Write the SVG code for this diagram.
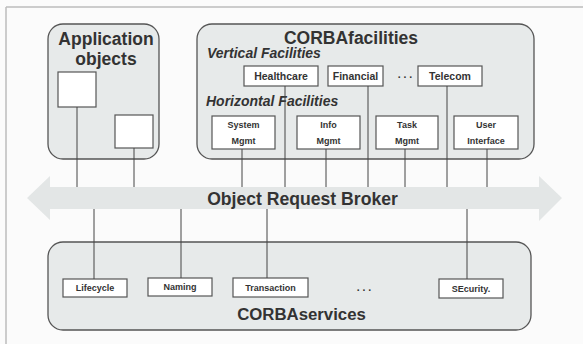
<svg xmlns="http://www.w3.org/2000/svg" width="583" height="344" viewBox="0 0 583 344">
<defs>
<style>
.frame{stroke:#bdbdbd;stroke-width:1.5;fill:none}
.group{fill:#e7eaea;stroke:#555;stroke-width:1.3}
.box{fill:#fff;stroke:#555;stroke-width:1.2}
.conn{stroke:#444;stroke-width:1;fill:none}
.t{font-family:"Liberation Sans",Arial,sans-serif;font-weight:bold;fill:#333;text-anchor:middle}
.title{font-size:17.5px}
.sub{font-size:14px;font-style:italic;text-anchor:start}
.vf{font-size:10.5px}
.sm{font-size:9px}
.orb{fill:#e3e6e6}
</style>
</defs>
<rect width="583" height="344" fill="#fbfbfb"/>
<path class="frame" d="M6 7 H583 M6 7 V344"/>

<g id="application-objects">
<rect class="group" x="48" y="24" width="111" height="135" rx="15"/>
<text class="t title" x="106" y="45">Application</text>
<text class="t title" x="106" y="65">objects</text>
<rect class="box" x="58" y="72" width="38" height="35"/>
<rect class="box" x="115" y="115" width="38" height="33"/>
</g>

<g id="corbafacilities">
<rect class="group" x="197" y="24" width="337" height="135" rx="15"/>
<text class="t title" x="351" y="44">CORBAfacilities</text>
<text class="t sub" x="207" y="58">Vertical Facilities</text>
<text class="t sub" x="206" y="106">Horizontal Facilities</text>
<text class="t vf" x="405" y="78">. . .</text>
</g>

<g id="healthcare"><rect class="box" x="244" y="66" width="74" height="20"/><text class="t vf" x="281" y="80">Healthcare</text></g>
<g id="financial"><rect class="box" x="328" y="66" width="55" height="20"/><text class="t vf" x="355.5" y="80">Financial</text></g>
<g id="telecom"><rect class="box" x="418" y="66" width="64" height="20"/><text class="t vf" x="450" y="80">Telecom</text></g>

<g id="system-mgmt"><rect class="box" x="212" y="116" width="63" height="33"/><text class="t sm" x="243.5" y="128">System</text><text class="t sm" x="243.5" y="144">Mgmt</text></g>
<g id="info-mgmt"><rect class="box" x="297" y="116" width="63" height="33"/><text class="t sm" x="328.5" y="128">Info</text><text class="t sm" x="328.5" y="144">Mgmt</text></g>
<g id="task-mgmt"><rect class="box" x="376" y="116" width="62" height="33"/><text class="t sm" x="407" y="128">Task</text><text class="t sm" x="407" y="144">Mgmt</text></g>
<g id="user-interface"><rect class="box" x="454" y="116" width="64" height="33"/><text class="t sm" x="486" y="128">User</text><text class="t sm" x="486" y="144">Interface</text></g>

<g id="orb">
<polygon class="orb" points="27,198 50,176 50,187 539,187 539,176 562,198 539,221 539,209 50,209 50,220"/>
<text class="t" style="font-size:17.6px" x="302.5" y="205">Object Request Broker</text>
</g>

<g id="corbaservices">
<rect class="group" x="48" y="242" width="483" height="88" rx="15"/>
<text class="t title" style="font-size:16.8px" x="301.5" y="320">CORBAservices</text>
<text class="t vf" x="364" y="291">. . .</text>
</g>

<g id="lifecycle"><rect class="box" x="63" y="279" width="64" height="18"/><text class="t sm" x="95" y="291">Lifecycle</text></g>
<g id="naming"><rect class="box" x="148" y="278" width="64" height="18"/><text class="t sm" x="180" y="290">Naming</text></g>
<g id="transaction"><rect class="box" x="233" y="278" width="75" height="19"/><text class="t sm" x="270.5" y="291">Transaction</text></g>
<g id="security"><rect class="box" x="439" y="279" width="64" height="19"/><text class="t sm" x="471" y="292">SEcurity.</text></g>

<g id="connectors" class="conn">
<path d="M77 107 V187"/>
<path d="M134 148 V187"/>
<path d="M242 149 V187"/>
<path d="M285 86 V187"/>
<path d="M326 149 V187"/>
<path d="M368 86 V187"/>
<path d="M405 149 V187"/>
<path d="M447 86 V187"/>
<path d="M487 149 V187"/>
<path d="M94 209 V279"/>
<path d="M181 209 V278"/>
<path d="M267 209 V278"/>
<path d="M467 209 V279"/>
</g>
</svg>
